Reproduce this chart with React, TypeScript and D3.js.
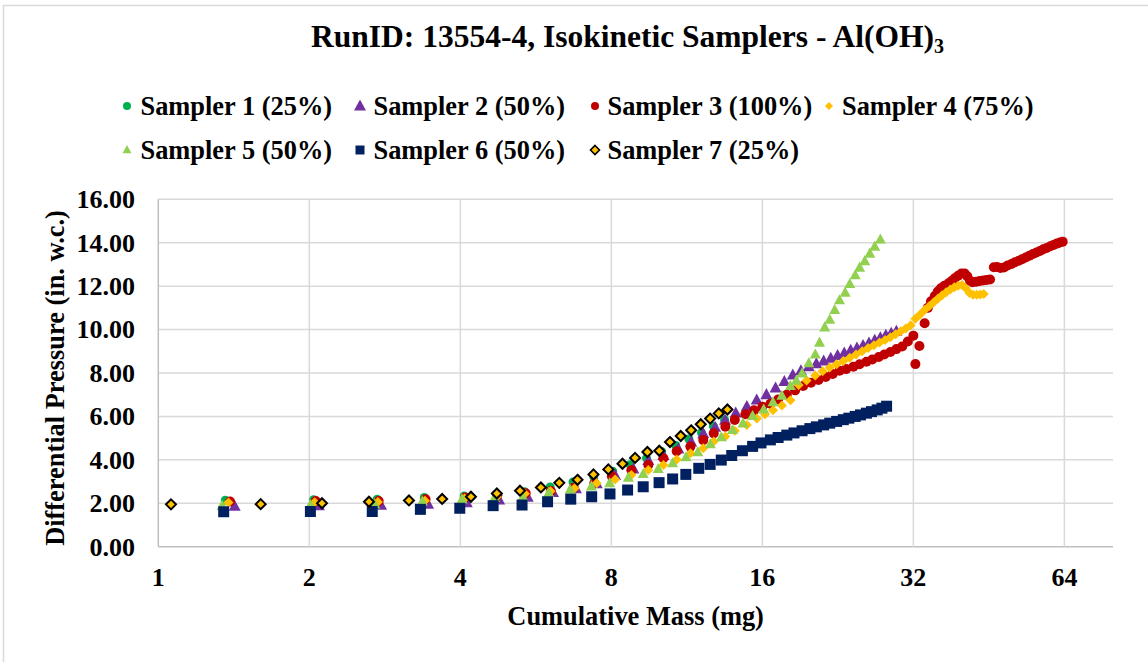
import React from 'react';
import * as d3 from 'd3';

const W = 1148;
const H = 662;

const xTicks = [1, 2, 4, 8, 16, 32, 64];
const yTicks = [0, 2, 4, 6, 8, 10, 12, 14, 16];

// Sampler 1 (25%)
const s1x = [1.36, 2.04, 2.73, 3.39, 4.07, 4.72, 5.37, 6.04, 6.71, 7.38, 8.05, 8.72, 9.40, 10.08, 10.75, 11.42, 12.1, 12.78, 13.45];
const s1y = [2.14, 2.16, 2.18, 2.27, 2.33, 2.41, 2.53, 2.75, 2.98, 3.22, 3.48, 3.78, 4.08, 4.38, 4.66, 4.96, 5.25, 5.55, 5.85];

// Sampler 2 (50%)
const s2x = [1.42, 2.09, 2.78, 3.45, 4.12, 4.78, 5.45, 6.12, 6.80, 7.48, 8.14, 8.85, 9.48, 10.16, 10.88, 11.54, 12.2, 12.88, 13.48, 14.16, 14.9, 15.59, 16.3, 17.0, 17.7, 18.4, 19.1, 19.8, 20.5, 21.2, 21.9, 22.6, 23.3, 24.0, 24.7, 25.4, 26.1, 26.8, 27.5, 28.2, 28.9, 29.6];
const s2y = [1.86, 1.88, 1.90, 1.95, 2.02, 2.15, 2.27, 2.49, 2.66, 2.90, 3.28, 3.58, 3.97, 4.20, 4.50, 4.82, 5.20, 5.50, 5.82, 6.15, 6.45, 6.75, 7.00, 7.30, 7.60, 7.90, 8.10, 8.28, 8.42, 8.55, 8.67, 8.80, 8.92, 9.04, 9.15, 9.26, 9.38, 9.50, 9.62, 9.73, 9.83, 9.92];

// Sampler 3 (100%)
const s3x = [1.39, 2.06, 2.75, 3.41, 4.09, 4.74, 5.40, 6.06, 6.73, 7.40, 8.02, 8.77, 9.48, 10.16, 10.8, 11.5, 12.2, 12.8, 13.5, 14.1, 14.8, 15.4, 16.0, 16.6, 17.2, 17.9, 18.6, 19.3, 20.0, 20.7, 21.4, 22.1, 22.8, 23.5, 24.3, 25.0, 25.8, 26.5, 27.3, 28.0, 28.8, 29.6, 30.4, 31.2, 32.0, 32.3, 32.9, 33.7, 34.2, 34.7, 35.3, 35.8, 36.3, 36.9, 37.6, 38.2, 38.7, 39.3, 39.9, 40.5, 41.0, 41.5, 42.0, 42.7, 43.4, 44.1, 44.8, 45.5, 46.3, 47.0, 47.7, 48.5, 49.3, 50.2, 51.0, 51.9, 52.7, 53.6, 54.5, 55.4, 56.3, 57.2, 58.1, 59.0, 60.0, 60.9, 61.8, 62.7, 63.5];
const s3y = [2.08, 2.10, 2.10, 2.18, 2.27, 2.37, 2.46, 2.56, 2.72, 2.92, 3.24, 3.52, 3.76, 4.07, 4.40, 4.61, 4.91, 5.22, 5.53, 5.84, 6.10, 6.28, 6.45, 6.58, 6.78, 7.00, 7.20, 7.40, 7.55, 7.68, 7.82, 7.95, 8.10, 8.18, 8.29, 8.40, 8.52, 8.62, 8.74, 8.85, 8.97, 9.10, 9.22, 9.45, 9.72, 8.41, 9.24, 10.29, 11.0, 11.3, 11.55, 11.75, 11.9, 12.02, 12.13, 12.25, 12.36, 12.48, 12.58, 12.58, 12.45, 12.25, 12.18, 12.2, 12.24, 12.26, 12.28, 12.31, 12.87, 12.88, 12.84, 12.86, 12.95, 13.02, 13.1, 13.17, 13.24, 13.32, 13.4, 13.48, 13.55, 13.62, 13.7, 13.76, 13.84, 13.9, 13.96, 14.01, 14.05];

// Sampler 4 (75%)
const s4x = [1.38, 2.05, 2.74, 3.40, 4.08, 4.73, 5.38, 6.05, 6.76, 7.48, 8.14, 8.77, 9.48, 10.16, 10.8, 11.5, 12.2, 12.8, 13.5, 14.1, 14.9, 15.6, 16.2, 16.8, 17.5, 18.2, 18.9, 19.6, 20.4, 21.1, 21.8, 22.5, 23.2, 23.9, 24.6, 25.3, 26.0, 26.7, 27.4, 28.1, 28.8, 29.5, 30.2, 30.9, 31.6, 32.3, 33.0, 33.7, 34.4, 35.1, 35.8, 36.5, 37.2, 37.9, 38.6, 39.3, 40.0, 40.7, 41.4, 42.1, 42.8, 43.5, 44.2];
const s4y = [2.03, 2.05, 2.06, 2.12, 2.22, 2.30, 2.44, 2.55, 2.69, 2.92, 3.10, 3.30, 3.53, 3.76, 4.02, 4.30, 4.53, 4.84, 5.07, 5.34, 5.61, 5.90, 6.10, 6.28, 6.50, 6.74, 7.45, 7.66, 7.88, 8.08, 8.25, 8.40, 8.55, 8.70, 8.85, 9.00, 9.15, 9.28, 9.40, 9.52, 9.65, 9.78, 9.92, 10.05, 10.2, 10.5, 10.7, 10.9, 11.08, 11.25, 11.42, 11.58, 11.72, 11.85, 11.95, 12.02, 12.05, 11.9, 11.68, 11.6, 11.6, 11.62, 11.64];

// Sampler 5 (50%)
const s5x = [1.34, 2.01, 2.70, 3.36, 4.03, 4.68, 5.33, 6.00, 6.62, 7.30, 7.94, 8.65, 9.26, 9.92, 10.6, 11.27, 11.9, 12.6, 13.25, 13.95, 14.64, 15.3, 16.1, 16.8, 17.5, 18.2, 18.7, 19.2, 19.8, 20.4, 20.8, 21.3, 21.8, 22.3, 22.8, 23.4, 23.9, 24.5, 25.0, 25.6, 26.2, 26.8, 27.5];
const s5y = [1.88, 1.92, 1.95, 2.08, 2.18, 2.25, 2.28, 2.48, 2.62, 2.78, 2.93, 3.18, 3.35, 3.58, 3.84, 4.12, 4.35, 4.72, 5.04, 5.38, 5.68, 6.02, 6.32, 6.65, 6.95, 7.40, 7.65, 7.98, 8.45, 8.85, 9.4, 10.1, 10.45, 10.9, 11.35, 11.7, 12.1, 12.5, 12.85, 13.15, 13.5, 13.82, 14.15];

// Sampler 6 (50%)
const s6x = [1.35, 2.01, 2.67, 3.33, 3.99, 4.65, 5.31, 5.97, 6.64, 7.31, 7.95, 8.62, 9.26, 9.96, 10.6, 11.26, 11.95, 12.59, 13.25, 13.9, 14.6, 15.3, 15.9, 16.6, 17.2, 17.9, 18.5, 19.2, 19.9, 20.5, 21.2, 21.8, 22.5, 23.2, 23.8, 24.5, 25.1, 25.8, 26.4, 27.1, 27.7, 28.3];
const s6y = [1.61, 1.62, 1.62, 1.72, 1.77, 1.89, 1.92, 2.07, 2.19, 2.30, 2.43, 2.61, 2.76, 2.95, 3.12, 3.33, 3.61, 3.79, 3.99, 4.20, 4.42, 4.62, 4.78, 4.92, 5.03, 5.14, 5.24, 5.34, 5.44, 5.52, 5.61, 5.69, 5.77, 5.85, 5.92, 6.00, 6.07, 6.15, 6.22, 6.30, 6.38, 6.47];

// Sampler 7 (25%)
const s7x = [1.06, 1.60, 2.12, 2.63, 3.16, 3.68, 4.20, 4.73, 5.26, 5.79, 6.30, 6.85, 7.37, 7.89, 8.42, 8.92, 9.44, 9.97, 10.47, 11.0, 11.54, 12.06, 12.59, 13.10, 13.63];
const s7y = [1.95, 1.96, 2.00, 2.07, 2.13, 2.20, 2.30, 2.45, 2.58, 2.73, 2.94, 3.08, 3.33, 3.56, 3.82, 4.09, 4.36, 4.42, 4.82, 5.10, 5.36, 5.64, 5.90, 6.14, 6.32];

const seriesNames = ['Sampler 1 (25%)', 'Sampler 2 (50%)', 'Sampler 3 (100%)', 'Sampler 4 (75%)', 'Sampler 5 (50%)', 'Sampler 6 (50%)', 'Sampler 7 (25%)'];
const seriesX = [s1x, s2x, s3x, s4x, s5x, s6x, s7x];
const seriesY = [s1y, s2y, s3y, s4y, s5y, s6y, s7y];
const colors = ['#00B050', '#7030A0', '#C00000', '#FFC000', '#92D050', '#002060', '#FFC000'];
const shapes = ['circle', 'triangle', 'circle', 'diamond', 'triangle', 'square', 'diamond'];
const sizes = [9, 12, 10, 10, 11, 11, 10];
const legendSizes = [8, 12, 8, 8, 9, 9, 9];

const FONT = '"Liberation Serif", "Times New Roman", serif';

function markerPath(shape: string, s: number): string {
  const h = s / 2;
  if (shape === 'circle') {
    return `M${-h},0A${h},${h} 0 1,0 ${h},0A${h},${h} 0 1,0 ${-h},0Z`;
  }
  if (shape === 'triangle') {
    const th = s * 0.92;
    return `M0,${-th * 0.6}L${h},${th * 0.4}L${-h},${th * 0.4}Z`;
  }
  if (shape === 'diamond') {
    return `M0,${-h}L${h},0L0,${h}L${-h},0Z`;
  }
  return `M${-h},${-h}H${h}V${h}H${-h}Z`;
}

export default function App() {
  const x0 = 158.3;
  const x1 = 1113;
  const yBottom = 546.7;
  const yTop = 199.3;
  const x = d3.scaleLog().base(2).domain([1, 80]).range([x0, x1]);
  const y = d3.scaleLinear().domain([0, 16]).range([yBottom, yTop]);

  const legendPos = [
    { mx: 127, tx: 140.5, y: 106 },
    { mx: 360, tx: 373.5, y: 106 },
    { mx: 595, tx: 607.5, y: 106 },
    { mx: 829, tx: 842, y: 106 },
    { mx: 127, tx: 140.5, y: 150 },
    { mx: 360, tx: 373.5, y: 150 },
    { mx: 595, tx: 607.5, y: 150 },
  ];

  return (
    <svg width={W} height={H} style={{ position: 'absolute', left: 0, top: 0, display: 'block', background: '#fff' }}
      fontFamily={FONT}>
      <rect x={0} y={0} width={W} height={H} fill="#fff" />
      <rect x={3.5} y={5.5} width={1160} height={680} fill="none" stroke="#d9d9d9" strokeWidth={1.5} />

      {/* Title */}
      <text x={311} y={46.7} fontSize={31.5} fontWeight="bold" fill="#000">
        <tspan>RunID: 13554-4, Isokinetic Samplers - Al(OH)</tspan>
        <tspan dy={6.5} fontSize={20}>3</tspan>
      </text>

      {/* Legend */}
      {seriesNames.map((name, i) => {
        const p = legendPos[i];
        return (
          <g key={name}>
            <path d={markerPath(shapes[i], legendSizes[i])} transform={`translate(${p.mx},${p.y})`}
              fill={colors[i]} stroke={i === 6 ? '#000' : 'none'} strokeWidth={i === 6 ? 1.6 : 0} />
            <text x={p.tx} y={p.y + 8.5} fontSize={26.4} fontWeight="bold" fill="#000">{name}</text>
          </g>
        );
      })}

      {/* Gridlines */}
      {yTicks.map((t) => (
        <line key={'gy' + t} x1={x0} x2={x1} y1={y(t)} y2={y(t)} stroke={t === 0 ? '#bfbfbf' : '#d9d9d9'} strokeWidth={1.5} />
      ))}
      {xTicks.map((t) => (
        <line key={'gx' + t} x1={x(t)} x2={x(t)} y1={yTop} y2={yBottom} stroke={t === 1 ? '#bfbfbf' : '#d9d9d9'} strokeWidth={1.5} />
      ))}

      {/* Y tick labels */}
      {yTicks.map((t) => (
        <text key={'ly' + t} x={135} y={y(t) + 8.8} fontSize={26} fontWeight="bold" textAnchor="end" fill="#000">
          {t.toFixed(2)}
        </text>
      ))}
      {/* X tick labels */}
      {xTicks.map((t) => (
        <text key={'lx' + t} x={x(t)} y={585.5} fontSize={26} fontWeight="bold" textAnchor="middle" fill="#000">
          {String(t)}
        </text>
      ))}

      {/* Axis titles */}
      <text x={(x0 + x1) / 2} y={625} fontSize={26.4} fontWeight="bold" textAnchor="middle" fill="#000">
        Cumulative Mass (mg)
      </text>
      <text transform={`translate(63.5,378) rotate(-90)`} fontSize={26.4} fontWeight="bold" textAnchor="middle" fill="#000">
        Differential Pressure (in. w.c.)
      </text>

      {/* Data */}
      {seriesX.map((xs, i) => (
        <g key={'s' + i}>
          {xs.map((v, j) => (
            <path key={j} d={markerPath(shapes[i], sizes[i])}
              transform={`translate(${x(v)},${y(seriesY[i][j])})`}
              fill={colors[i]} stroke={i === 6 ? '#000' : 'none'} strokeWidth={i === 6 ? 2 : 0} />
          ))}
        </g>
      ))}
    </svg>
  );
}
